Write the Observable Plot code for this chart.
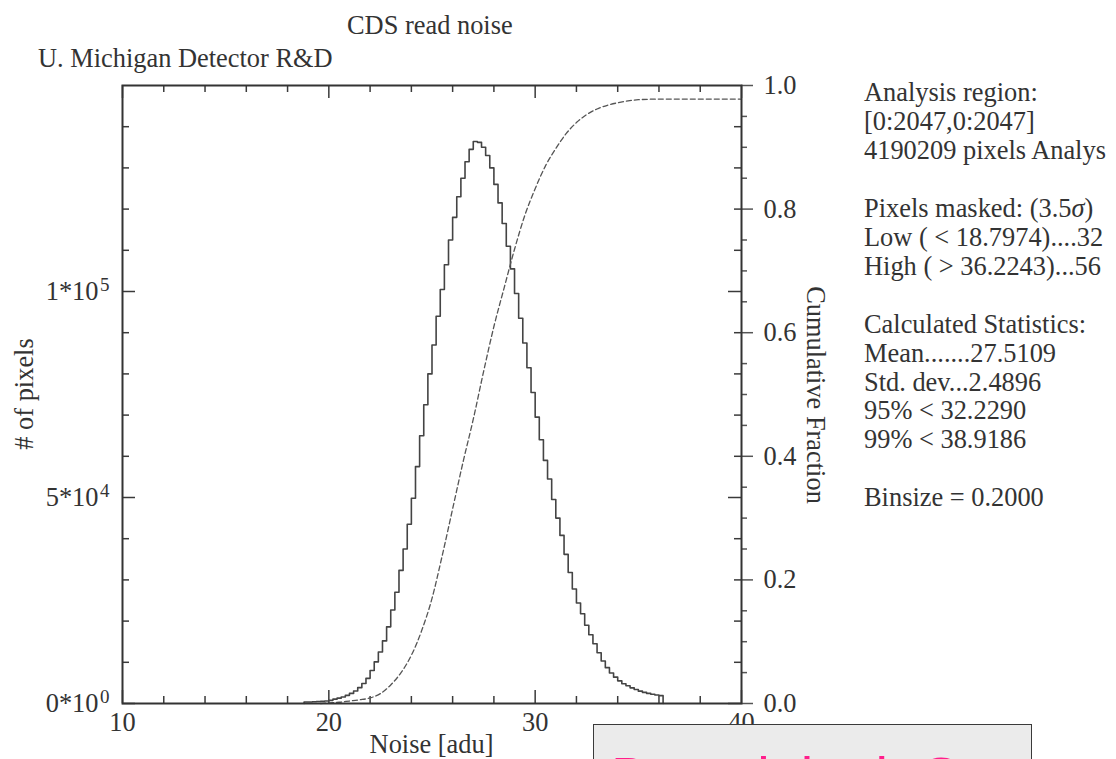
<!DOCTYPE html>
<html>
<head>
<meta charset="utf-8">
<script src="https://cdn.jsdelivr.net/npm/d3@7"></script>
<script src="https://cdn.jsdelivr.net/npm/@observablehq/plot@0.6"></script>
<style>
html,body{margin:0;padding:0;background:#fff;overflow:hidden;}
#wrap{position:relative;width:1116px;height:759px;overflow:hidden;font-family:"Liberation Serif","Times New Roman",serif;color:#333;}
#wrap svg{position:absolute;left:0;top:0;}
.t{position:absolute;white-space:pre;font-size:26.4px;line-height:26.4px;}
.s{position:absolute;left:864px;white-space:pre;font-size:26.4px;line-height:28.95px;}
#box{position:absolute;left:593px;top:724px;width:437px;height:80px;background:#ebebeb;border:1.5px solid #3a3a3a;overflow:hidden;}
#box span{position:absolute;left:17px;top:23.6px;font-family:"Liberation Sans",Arial,sans-serif;font-size:56px;line-height:56px;color:#ff1e8c;white-space:pre;}
</style>
</head>
<body>
<div id="wrap"></div>
<script>
// ---- data ----
const binStart = 18.8;          // first bin edge [adu]
const binSize = 0.2;            // Binsize = 0.2000
const counts = [
  350, 380, 420, 470, 540, 620, 760, 1050, 1300, 1580,
  1980, 2450, 3050, 3850, 4850, 6100, 8000, 10100, 12500, 15200,
  18600, 22700, 27000, 32300, 37500, 43500, 49800, 57500, 65000, 72500,
  80000, 87000, 94000, 100500, 106500, 112500, 118000, 123000, 127500, 131500,
  134500, 136400, 136200, 135000, 133000, 130000, 126000, 121500, 116500, 111000,
  105500, 99500, 93500, 87500, 81500, 75500, 69500, 64000, 59000, 54500,
  49500, 45000, 40800, 36200, 31800, 27800, 24400, 21800, 19000, 16700,
  14500, 12300, 10300, 8700, 7400, 6400, 5500, 4800, 4300, 3800,
  3400, 3000, 2700, 2450, 2250, 2050, 1900
];
const cumX = [19.6, 20, 20.5, 21, 21.5, 22, 22.5, 23, 23.5, 24, 24.5, 25, 25.5, 26, 26.5, 27, 27.5, 28, 28.5, 29, 29.5, 30, 30.5, 31, 31.5, 32, 32.5, 33, 33.5, 34, 34.5, 35, 36, 38, 40];
const cumF = [0, 0.001, 0.002, 0.004, 0.006, 0.009, 0.016, 0.030, 0.050, 0.078, 0.118, 0.170, 0.240, 0.315, 0.390, 0.460, 0.537, 0.610, 0.673, 0.735, 0.790, 0.833, 0.870, 0.898, 0.922, 0.940, 0.953, 0.962, 0.968, 0.972, 0.975, 0.977, 0.978, 0.978, 0.978];

const xDomain = [10, 40];
const xMajor = [10, 20, 30, 40];
const xMinor = [12, 14, 16, 18, 22, 24, 26, 28, 32, 34, 36, 38];
const YMAX = 150000;
const yMajor = [0, 50000, 100000];
const yMantissa = ["0*10", "5*10", "1*10"];
const yExponent = ["0", "4", "5"];
const yMinor = [10000, 20000, 30000, 40000, 60000, 70000, 80000, 90000, 110000, 120000, 130000, 140000];
const fMajor = [0, 0.2, 0.4, 0.6, 0.8, 1.0];
const fMinor = [0.05, 0.1, 0.15, 0.25, 0.3, 0.35, 0.45, 0.5, 0.55, 0.65, 0.7, 0.75, 0.85, 0.9, 0.95];

const title = "CDS read noise";
const subtitle = "U. Michigan Detector R&D";
const xLabel = "Noise [adu]";
const yLabel = "# of pixels";
const y2Label = "Cumulative Fraction";
// each stats line: list of [text, italic?] pieces (as far as visible in the picture)
const statsLines = [
  [["Analysis region:", false]],
  [["[0:2047,0:2047]", false]],
  [["4190209 pixels Analys", false]],
  [],
  [["Pixels masked: (3.5", false], ["\u03c3", true], [")", false]],
  [["Low ( < 18.7974)....32", false]],
  [["High ( > 36.2243)...56", false]],
  [],
  [["Calculated Statistics:", false]],
  [["Mean.......27.5109", false]],
  [["Std. dev...2.4896", false]],
  [["95% < 32.2290", false]],
  [["99% < 38.9186", false]],
  [],
  [["Binsize = 0.2000", false]]
];
const boxText = "Does it look Gaussian?";

// ---- layout ----
const W = 1116, H = 759;
const mL = 122, mR = 375, mT = 85, mB = 56;
const fw = W - mL - mR, fh = H - mT - mB;
const majorLen = 13, minorLen = 7;

// ---- tables for the library ----
const hist = [{x: binStart, y: 0}];
counts.forEach((c, i) => hist.push({x: binStart + i * binSize, y: c}));
const xEnd = binStart + counts.length * binSize;
hist.push({x: xEnd, y: counts[counts.length - 1]});
hist.push({x: xEnd, y: 0});
const cum = cumX.map((x, i) => ({x, y: cumF[i] * YMAX}));

const tickStyle = {stroke: "#3a3a3a", strokeWidth: 1.5};

const chart = Plot.plot({
  width: W, height: H,
  marginLeft: mL, marginRight: mR, marginTop: mT, marginBottom: mB,
  x: {domain: xDomain},
  y: {domain: [0, YMAX]},
  style: {fontFamily: "'Liberation Serif','Times New Roman',serif", fontSize: "26.4px", color: "#333", background: "transparent", overflow: "visible"},
  marks: [
    // inward ticks bottom / top
    Plot.ruleX(xMajor, {x: d => d, insetTop: fh - majorLen, ...tickStyle}),
    Plot.ruleX(xMinor, {x: d => d, insetTop: fh - minorLen, ...tickStyle}),
    Plot.ruleX(xMajor, {x: d => d, insetBottom: fh - majorLen, ...tickStyle}),
    Plot.ruleX(xMinor, {x: d => d, insetBottom: fh - minorLen, ...tickStyle}),
    // inward ticks left / right (counts)
    Plot.ruleY(yMajor, {y: d => d, insetRight: fw - majorLen, ...tickStyle}),
    Plot.ruleY(yMinor, {y: d => d, insetRight: fw - minorLen, ...tickStyle}),
    Plot.ruleY(yMajor, {y: d => d, insetLeft: fw - majorLen, ...tickStyle}),
    Plot.ruleY(yMinor, {y: d => d, insetLeft: fw - minorLen, ...tickStyle}),
    // outward ticks on the cumulative axis
    Plot.ruleY(fMajor, {y: d => d * YMAX, insetLeft: fw, insetRight: -12, stroke: "#555", strokeWidth: 1.5}),
    Plot.ruleY(fMinor, {y: d => d * YMAX, insetLeft: fw, insetRight: -6, stroke: "#555", strokeWidth: 1.5}),
    // histogram
    Plot.line(hist, {x: "x", y: "y", curve: "step-after", stroke: "#444", strokeWidth: 1.6}),
    // cumulative fraction
    Plot.line(cum, {x: "x", y: "y", curve: "monotone-x", stroke: "#555", strokeWidth: 1.3, strokeDasharray: "5,3"}),
    Plot.frame({stroke: "#333", strokeWidth: 2}),
    // axes
    Plot.axisX({ticks: xMajor, tickSize: 0, tickPadding: 9, label: null, tickFormat: d => String(d)}),
    Plot.axisY({ticks: yMajor, tickSize: 0, tickPadding: 24, label: null, tickFormat: d => yMantissa[yMajor.indexOf(d)]}),
    Plot.axisY({ticks: yMajor, tickSize: 0, tickPadding: 13, label: null, fontSize: 19, dy: -6.6, tickFormat: d => yExponent[yMajor.indexOf(d)]}),
    Plot.axisY({anchor: "right", ticks: fMajor.map(f => f * YMAX), tickSize: 0, tickPadding: 22, label: null, tickFormat: d => (d / YMAX).toFixed(1)})
  ]
});

const wrap = document.getElementById("wrap");
wrap.appendChild(chart);

function addText(txt, left, top, extra) {
  const d = document.createElement("div");
  d.className = "t";
  d.textContent = txt;
  d.style.left = left + "px";
  d.style.top = top + "px";
  if (extra) Object.assign(d.style, extra);
  wrap.appendChild(d);
  return d;
}
addText(title, 347, 12.4);
addText(subtitle, 38, 45.4);
addText(xLabel, 431.5, 730.9, {transform: "translateX(-50%)"});
addText(yLabel, 24.1, 394, {transform: "translate(-50%,-50%) rotate(-90deg)"});
addText(y2Label, 815.9, 395, {transform: "translate(-50%,-50%) rotate(90deg)"});

const statsTop = 78, statsStep = 28.95;
statsLines.forEach((pieces, i) => {
  if (!pieces.length) return;
  const line = document.createElement("div");
  line.className = "s";
  line.style.top = (statsTop + i * statsStep) + "px";
  pieces.forEach(([txt, ital]) => {
    const sp = document.createElement("span");
    sp.textContent = txt;
    if (ital) sp.style.fontStyle = "italic";
    line.appendChild(sp);
  });
  wrap.appendChild(line);
});

const box = document.createElement("div");
box.id = "box";
const bs = document.createElement("span");
bs.textContent = boxText;
box.appendChild(bs);
wrap.appendChild(box);
</script>
</body>
</html>
